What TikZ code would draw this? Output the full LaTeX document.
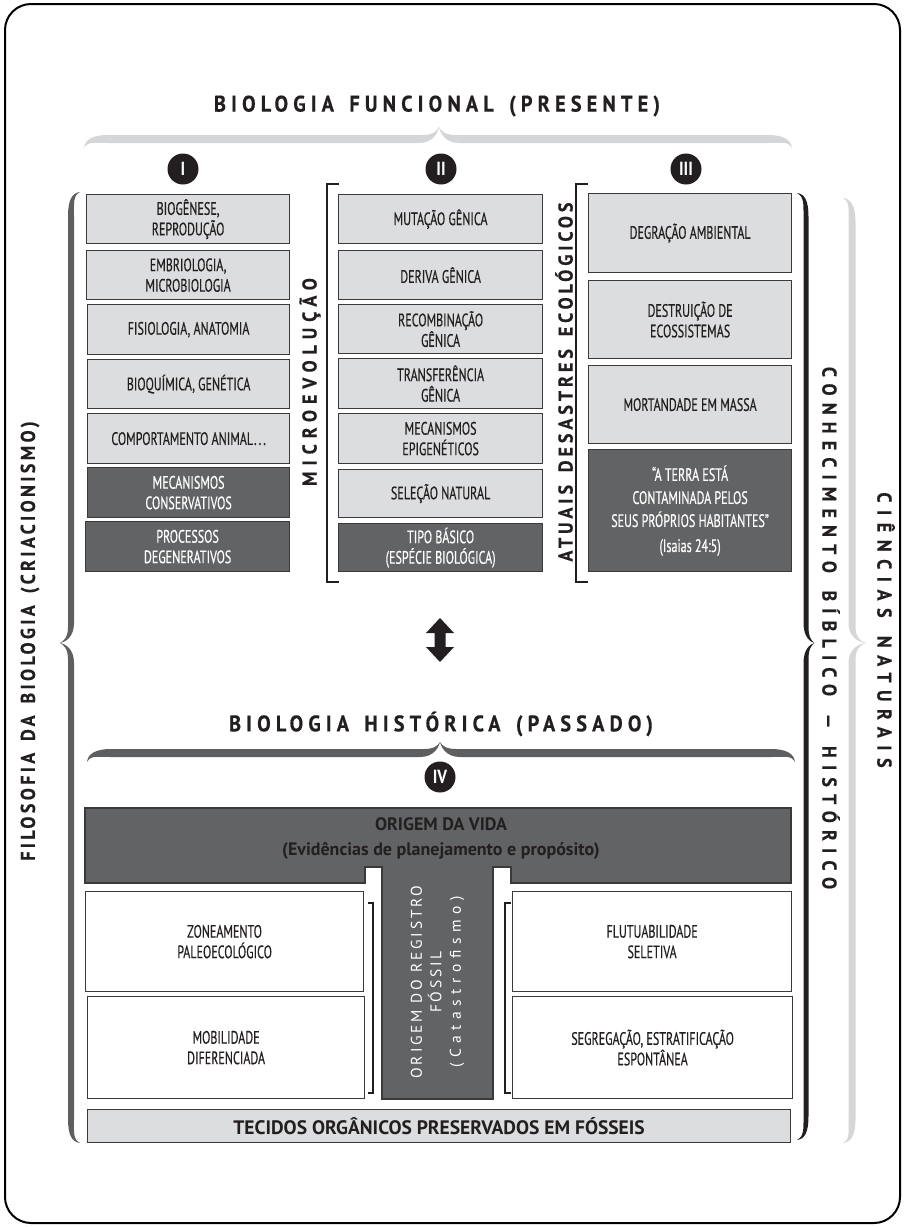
\documentclass[tikz,border=0pt]{standalone}
\usepackage{fontspec}
\setmainfont{PT Sans}
\newfontfamily\condfont[FakeStretch=0.67,FakeBold=0.4]{PT Sans}
\newfontfamily\numfont[FakeStretch=0.85]{PT Sans Bold}
\newfontfamily\plainfont{PT Sans}
% bold tracked caps: #1 size, #2 letter spacing
\newcommand\trackfont[2]{\fontspec[FakeStretch=0.9,FakeBold=0.5,LetterSpace=#2,WordSpace=1.5]{PT Sans Bold}\fontsize{#1}{#1}\selectfont}

\definecolor{boxlight}{HTML}{DCDDDE}
\definecolor{boxdark}{HTML}{626365}
\definecolor{boxline}{HTML}{3A3A3C}
\definecolor{inkdark}{HTML}{231F20}
\definecolor{bracelight}{HTML}{D5D6D8}
\definecolor{bracedark}{HTML}{5E5F61}

% vertical curly brace: #1 body x, #2 top y, #3 bottom y, #4 tip y,
% #5 tip direction ((1) right / (-1) left), #6 half width, #7 tip length, #8 colour
\newcommand\vbrace[8]{%
  \fill[#8] ({#1-#5*9},{#2}) .. controls ({#1-#5*1},{#2+1}) and ({#1+#5*#6},{#2+8}) .. ({#1+#5*#6},{#2+24})
    -- ({#1+#5*#6},{#4-16}) .. controls ({#1+#5*#6},{#4-6}) and ({#1+#5*(#6+#7*0.5)},{#4-2}) .. ({#1+#5*(#6+#7)},{#4})
    .. controls ({#1+#5*(#6+#7*0.5)},{#4+2}) and ({#1+#5*#6},{#4+6}) .. ({#1+#5*#6},{#4+16})
    -- ({#1+#5*#6},{#3-24}) .. controls ({#1+#5*#6},{#3-8}) and ({#1-#5*1},{#3-1}) .. ({#1-#5*9},{#3})
    .. controls ({#1-#5*2},{#3-4}) and ({#1-#5*#6},{#3-10}) .. ({#1-#5*#6},{#3-24})
    -- ({#1-#5*#6},{#4+20}) .. controls ({#1-#5*#6},{#4+6}) and ({#1+#5*(#6+#7*0.3)},{#4+1}) .. ({#1+#5*(#6+#7)},{#4})
    .. controls ({#1+#5*(#6+#7*0.3)},{#4-1}) and ({#1-#5*#6},{#4-6}) .. ({#1-#5*#6},{#4-20})
    -- ({#1-#5*#6},{#2+24}) .. controls ({#1-#5*#6},{#2+10}) and ({#1-#5*2},{#2+4}) .. ({#1-#5*9},{#2}) -- cycle;}
% horizontal curly brace: #1 body y, #2 left x, #3 right x, #4 tip x,
% #5 tip direction ((-1) up / (1) down), #6 half width, #7 tip length, #8 colour
\newcommand\hbrace[8]{%
  \fill[#8] ({#2},{#1-#5*9}) .. controls ({#2+1},{#1-#5*1}) and ({#2+8},{#1+#5*#6}) .. ({#2+24},{#1+#5*#6})
    -- ({#4-16},{#1+#5*#6}) .. controls ({#4-6},{#1+#5*#6}) and ({#4-2},{#1+#5*(#6+#7*0.5)}) .. ({#4},{#1+#5*(#6+#7)})
    .. controls ({#4+2},{#1+#5*(#6+#7*0.5)}) and ({#4+6},{#1+#5*#6}) .. ({#4+16},{#1+#5*#6})
    -- ({#3-24},{#1+#5*#6}) .. controls ({#3-8},{#1+#5*#6}) and ({#3-1},{#1-#5*1}) .. ({#3},{#1-#5*9})
    .. controls ({#3-4},{#1-#5*2}) and ({#3-10},{#1-#5*#6}) .. ({#3-24},{#1-#5*#6})
    -- ({#4+20},{#1-#5*#6}) .. controls ({#4+6},{#1-#5*#6}) and ({#4+1},{#1+#5*(#6+#7*0.3)}) .. ({#4},{#1+#5*(#6+#7)})
    .. controls ({#4-1},{#1+#5*(#6+#7*0.3)}) and ({#4-6},{#1-#5*#6}) .. ({#4-20},{#1-#5*#6})
    -- ({#2+24},{#1-#5*#6}) .. controls ({#2+10},{#1-#5*#6}) and ({#2+4},{#1-#5*2}) .. ({#2},{#1-#5*9}) -- cycle;}

\begin{document}
\begin{tikzpicture}[x=1pt,y=-1pt,
  box/.style={draw=boxline, line width=1.2, inner sep=0, align=center, anchor=north west,
    font=\condfont\fontsize{18}{20.5}\selectfont},
  lbox/.style={box, fill=boxlight, text=inkdark},
  dbox/.style={box, fill=boxdark, text=white},
  wbox/.style={box, fill=white, text=inkdark},
  numc/.style={circle, fill=inkdark, text=white, minimum size=31, inner sep=0,
    font=\numfont\fontsize{19}{19}\selectfont},
  bracketline/.style={draw=inkdark, line width=1.4},
  heading/.style={text=inkdark, inner sep=0},
]
\useasboundingbox (0,0) rectangle (905,1227);
\fill[white] (0,0) rectangle (905,1227);
\draw[line width=2, rounded corners=26] (5,4) rectangle (900,1223);

% ---- headings and braces
\node[heading, font=\trackfont{22.5}{23}] (tfun) at (437,106) {BIOLOGIA FUNCIONAL (PRESENTE)};
\hbrace{139}{84}{792}{439}{(-1)}{4}{8}{bracelight}

\node[heading, font=\trackfont{22.5}{23}] (thist) at (441,724) {BIOLOGIA HISTÓRICA (PASSADO)};
\hbrace{753}{87}{795}{440}{(-1)}{4}{7}{bracedark}

\vbrace{71}{192}{1143}{643}{(-1)}{3}{8}{bracedark}
\vbrace{806}{193}{1140}{643}{(1)}{2.5}{6}{inkdark}
\vbrace{852}{198}{1143}{643}{(1)}{3.5}{10}{bracelight}

\node[heading, rotate=90, font=\trackfont{20}{17}] (tfilo) at (30,641) {FILOSOFIA DA BIOLOGIA (CRIACIONISMO)};
\node[heading, rotate=-90, font=\trackfont{20}{36}] (tbib) at (831,628) {CONHECIMENTO BÍBLICO — HISTÓRICO};
\node[heading, rotate=-90, font=\trackfont{20}{38}] (tcien) at (886,630) {CIÊNCIAS NATURAIS};

% ---- numbered circles
\node[numc] (n1) at (183,169) {I};
\node[numc] (n2) at (441,169) {II};
\node[numc] (n3) at (686,169) {III};
\node[numc] (n4) at (440,777) {IV};

% ---- column I
\node[lbox, minimum width=203, minimum height=49] (b1) at (86,194) {BIOGÊNESE,\\REPRODUÇÃO};
\node[lbox, minimum width=203, minimum height=49] (b2) at (86,250) {EMBRIOLOGIA,\\MICROBIOLOGIA};
\node[lbox, minimum width=202, minimum height=50] (b3) at (87,304) {FISIOLOGIA, ANATOMIA};
\node[lbox, minimum width=202, minimum height=49] (b4) at (87,359) {BIOQUÍMICA, GENÉTICA};
\node[lbox, minimum width=202, minimum height=50] (b5) at (87,413) {COMPORTAMENTO ANIMAL\kern1pt.\kern2pt.\kern2pt.};
\node[dbox, minimum width=202, minimum height=50] (b6) at (87,467) {MECANISMOS\\CONSERVATIVOS};
\node[dbox, minimum width=204, minimum height=50] (b7) at (85,521) {PROCESSOS\\DEGENERATIVOS};

% ---- column II
\draw[bracketline] (339,184) -- (327,184) -- (327,582) -- (339,582);
\node[heading, rotate=90, font=\trackfont{20}{30}] (tmicro) at (310,382) {MICROEVOLUÇÃO};
\node[lbox, minimum width=204, minimum height=49] (c1) at (338,194) {MUTAÇÃO GÊNICA};
\node[lbox, minimum width=204, minimum height=49] (c2) at (338,250) {DERIVA GÊNICA};
\node[lbox, minimum width=204, minimum height=49] (c3) at (338,304) {RECOMBINAÇÃO\\GÊNICA};
\node[lbox, minimum width=204, minimum height=50] (c4) at (338,358) {TRANSFERÊNCIA\\GÊNICA};
\node[lbox, minimum width=204, minimum height=50] (c5) at (338,413) {MECANISMOS\\EPIGENÉTICOS};
\node[lbox, minimum width=204, minimum height=48] (c6) at (338,469) {SELEÇÃO NATURAL};
\node[dbox, minimum width=204, minimum height=48] (c7) at (338,523) {TIPO BÁSICO\\(ESPÉCIE BIOLÓGICA)};

% ---- column III
\draw[bracketline] (588,184) -- (576,184) -- (576,582) -- (588,582);
\node[heading, rotate=90, font=\trackfont{20}{20}] (tecol) at (564,382) {ATUAIS DESASTRES ECOLÓGICOS};
\node[lbox, minimum width=203, minimum height=79] (d1) at (588,193) {DEGRAÇÃO AMBIENTAL};
\node[lbox, minimum width=203, minimum height=78] (d2) at (588,280) {DESTRUIÇÃO DE\\ECOSSISTEMAS};
\node[lbox, minimum width=203, minimum height=78] (d3) at (588,365) {MORTANDADE EM MASSA};
\node[dbox, minimum width=203, minimum height=122, font=\condfont\fontsize{18}{23}\selectfont] (d4) at (588,449) {“A TERRA ESTÁ\\CONTAMINADA PELOS\\SEUS PRÓPRIOS HABITANTES”\\[2pt](Isaias 24:5)};

% ---- double arrow between present and past
\fill[inkdark] (440,618) -- (454,633) -- (445.5,633) -- (445.5,647) -- (454,647) -- (440,662)
  -- (426,647) -- (434.5,647) -- (434.5,633) -- (426,633) -- cycle;

% ---- historical biology block
\path[draw=boxline, line width=1.2, fill=boxdark] (85,808) -- (791,808) -- (791,883) -- (511,883)
  -- (511,867) -- (493,867) -- (493,1099) -- (382,1099) -- (382,867) -- (365,867) -- (365,883)
  -- (85,883) -- cycle;
\node[text=inkdark, align=center, inner sep=0, font=\plainfont\bfseries\fontsize{18}{25}\selectfont] (origem) at (441,839)
  {ORIGEM DA VIDA\\(Evidências de planejamento e propósito)};
\node[text=white, rotate=90, align=center, inner sep=0, font=\plainfont\fontsize{15.5}{19.5}\selectfont\addfontfeature{LetterSpace=18}] (registro) at (437.5,982)
  {ORIGEM DO REGISTRO\\FÓSSIL\\{\addfontfeature{LetterSpace=36}(Catastrof{}ismo)}};

\node[wbox, minimum width=278, minimum height=100] (z1) at (85,891) {ZONEAMENTO\\PALEOECOLÓGICO};
\node[wbox, minimum width=277, minimum height=102] (z2) at (87,996) {MOBILIDADE\\DIFERENCIADA};
\node[wbox, minimum width=279, minimum height=100] (f1) at (512,891) {FLUTUABILIDADE\\SELETIVA};
\node[wbox, minimum width=280, minimum height=102] (f2) at (512,996) {SEGREGAÇÃO, ESTRATIFICAÇÃO\\ESPONTÂNEA};
\draw[bracketline] (368,903) -- (373,903) -- (373,1093) -- (368,1093);
\draw[bracketline] (511,903) -- (505,903) -- (505,1093) -- (511,1093);

\node[lbox, minimum width=703, minimum height=33, font=\plainfont\bfseries\fontsize{19.5}{22}\selectfont] (tec) at (87,1109) {TECIDOS ORGÂNICOS PRESERVADOS EM FÓSSEIS};
\end{tikzpicture}
\end{document}
